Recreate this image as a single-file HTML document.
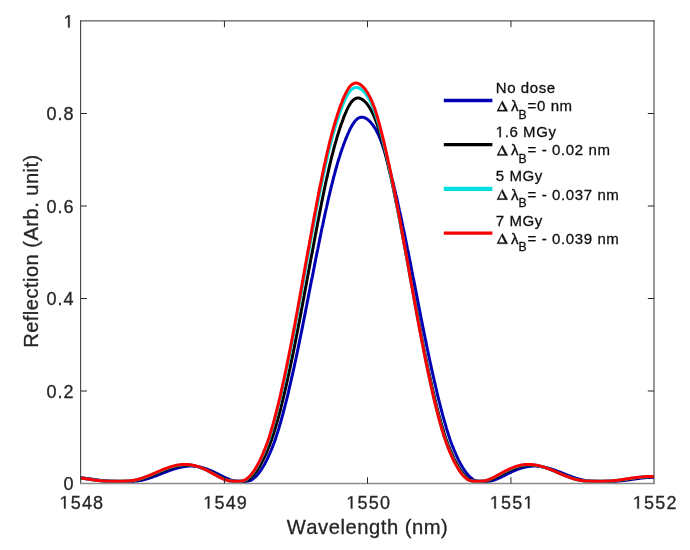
<!DOCTYPE html>
<html><head><meta charset="utf-8"><title>chart</title>
<style>
html,body{margin:0;padding:0;background:#fff;}
body{width:690px;height:550px;overflow:hidden;}
svg{display:block;will-change:transform;}
text{font-family:"Liberation Sans",sans-serif;fill:#262626;stroke:#262626;stroke-width:0.3px;}
.lg text{fill:#111;stroke:#111;stroke-width:0.3px;}
.g1{fill:#262626;stroke:#262626;stroke-width:0.3px;}
.lg .g1{fill:#111;stroke:#111;}
</style></head><body>
<svg width="690" height="550" viewBox="0 0 690 550">
<rect width="690" height="550" fill="#fff"/>
<defs><filter id="bl" x="0" y="0" width="690" height="550" filterUnits="userSpaceOnUse"><feGaussianBlur stdDeviation="0.45"/></filter><clipPath id="cp"><rect x="80.7" y="19.0" width="573.3" height="466.5"/></clipPath></defs>

<g filter="url(#bl)">
<g clip-path="url(#cp)" fill="none" stroke-linejoin="round" stroke-linecap="round">
<path d="M78.1,477.5 L78.7,477.6 L79.3,477.6 L79.9,477.7 L80.5,477.8 L81.1,477.8 L81.7,477.9 L82.3,477.9 L82.9,478.0 L83.5,478.1 L84.1,478.1 L84.7,478.2 L85.3,478.3 L85.9,478.4 L86.5,478.4 L87.1,478.5 L87.7,478.6 L88.3,478.7 L88.9,478.8 L89.5,478.8 L90.1,478.9 L90.7,479.0 L91.3,479.1 L91.9,479.2 L92.5,479.3 L93.1,479.3 L93.7,479.4 L94.3,479.5 L94.9,479.6 L95.5,479.7 L96.1,479.8 L96.7,479.9 L97.3,479.9 L97.9,480.0 L98.5,480.1 L99.1,480.2 L99.7,480.3 L100.3,480.3 L100.9,480.4 L101.5,480.5 L102.1,480.6 L102.7,480.6 L103.3,480.7 L103.9,480.7 L104.5,480.8 L105.1,480.9 L105.7,480.9 L106.3,481.0 L106.9,481.0 L107.5,481.1 L108.1,481.1 L108.7,481.1 L109.3,481.2 L109.9,481.2 L110.5,481.2 L111.1,481.3 L111.7,481.3 L112.3,481.3 L112.9,481.3 L113.5,481.3 L114.1,481.3 L114.7,481.3 L115.3,481.4 L115.9,481.4 L116.5,481.4 L117.1,481.4 L117.7,481.4 L118.3,481.4 L118.9,481.4 L119.5,481.4 L120.1,481.4 L120.7,481.4 L121.3,481.4 L121.9,481.4 L122.5,481.4 L123.1,481.4 L123.7,481.4 L124.3,481.4 L124.9,481.4 L125.5,481.4 L126.1,481.4 L126.7,481.4 L127.3,481.4 L127.9,481.4 L128.5,481.4 L129.1,481.4 L129.7,481.3 L130.3,481.3 L130.9,481.3 L131.5,481.3 L132.1,481.3 L132.7,481.3 L133.3,481.2 L133.9,481.2 L134.5,481.2 L135.1,481.1 L135.7,481.1 L136.3,481.0 L136.9,480.9 L137.5,480.9 L138.1,480.8 L138.7,480.7 L139.3,480.6 L139.9,480.5 L140.5,480.4 L141.1,480.3 L141.7,480.2 L142.3,480.1 L142.9,479.9 L143.5,479.8 L144.1,479.6 L144.7,479.5 L145.3,479.3 L145.9,479.2 L146.5,479.0 L147.1,478.8 L147.7,478.7 L148.3,478.5 L148.9,478.3 L149.5,478.1 L150.1,477.9 L150.7,477.7 L151.3,477.5 L151.9,477.3 L152.5,477.1 L153.1,476.9 L153.7,476.6 L154.3,476.4 L154.9,476.2 L155.5,476.0 L156.1,475.8 L156.7,475.5 L157.3,475.3 L157.9,475.1 L158.5,474.8 L159.1,474.6 L159.7,474.4 L160.3,474.1 L160.9,473.9 L161.5,473.7 L162.1,473.4 L162.7,473.2 L163.3,472.9 L163.9,472.7 L164.5,472.5 L165.1,472.2 L165.7,472.0 L166.3,471.8 L166.9,471.5 L167.5,471.3 L168.1,471.1 L168.7,470.9 L169.3,470.6 L169.9,470.4 L170.5,470.2 L171.1,470.0 L171.7,469.8 L172.3,469.6 L172.9,469.4 L173.5,469.2 L174.1,469.0 L174.7,468.8 L175.3,468.6 L175.9,468.5 L176.5,468.3 L177.1,468.1 L177.7,468.0 L178.3,467.8 L178.9,467.6 L179.5,467.5 L180.1,467.4 L180.7,467.2 L181.3,467.1 L181.9,467.0 L182.5,466.9 L183.1,466.8 L183.7,466.7 L184.3,466.6 L184.9,466.5 L185.5,466.4 L186.1,466.3 L186.7,466.3 L187.3,466.2 L187.9,466.2 L188.5,466.1 L189.1,466.1 L189.7,466.1 L190.3,466.1 L190.9,466.1 L191.6,466.1 L192.2,466.1 L192.8,466.1 L193.4,466.2 L194.0,466.2 L194.6,466.2 L195.2,466.3 L195.8,466.4 L196.4,466.4 L197.0,466.5 L197.6,466.6 L198.2,466.7 L198.8,466.8 L199.4,466.9 L200.0,467.1 L200.6,467.2 L201.2,467.3 L201.8,467.5 L202.4,467.6 L203.0,467.8 L203.6,468.0 L204.2,468.2 L204.8,468.4 L205.4,468.6 L206.0,468.8 L206.6,469.0 L207.2,469.2 L207.8,469.4 L208.4,469.6 L209.0,469.9 L209.6,470.1 L210.2,470.4 L210.8,470.6 L211.4,470.9 L212.0,471.2 L212.6,471.4 L213.2,471.7 L213.8,472.0 L214.4,472.3 L215.0,472.6 L215.6,472.9 L216.2,473.1 L216.8,473.4 L217.4,473.7 L218.0,474.0 L218.6,474.3 L219.2,474.6 L219.8,475.0 L220.4,475.3 L221.0,475.6 L221.6,475.9 L222.2,476.2 L222.8,476.5 L223.4,476.8 L224.0,477.0 L224.6,477.3 L225.2,477.6 L225.8,477.9 L226.4,478.2 L227.0,478.4 L227.6,478.7 L228.2,479.0 L228.8,479.2 L229.4,479.4 L230.0,479.7 L230.6,479.9 L231.2,480.1 L231.8,480.3 L232.4,480.4 L233.0,480.6 L233.6,480.7 L234.2,480.9 L234.8,481.0 L235.4,481.1 L236.0,481.2 L236.6,481.2 L237.2,481.3 L237.8,481.3 L238.4,481.3 L239.0,481.4 L239.6,481.4 L240.2,481.4 L240.8,481.4 L241.4,481.4 L242.0,481.4 L242.6,481.4 L243.1,481.4 L243.6,481.4 L244.2,481.4 L244.7,481.4 L245.2,481.4 L245.8,481.3 L246.3,481.3 L246.8,481.3 L247.4,481.2 L247.9,481.1 L248.5,481.0 L249.0,480.9 L249.5,480.8 L250.1,480.6 L250.6,480.3 L251.2,480.1 L251.7,479.8 L252.3,479.4 L252.8,479.0 L253.4,478.6 L253.9,478.2 L254.5,477.7 L255.1,477.2 L255.6,476.7 L256.2,476.1 L256.8,475.5 L257.3,474.8 L257.9,474.2 L258.5,473.4 L259.1,472.7 L259.6,471.9 L260.2,471.1 L260.8,470.3 L261.4,469.4 L262.0,468.5 L262.6,467.5 L263.2,466.5 L263.8,465.5 L264.4,464.4 L265.0,463.4 L265.6,462.2 L266.2,461.1 L266.8,459.9 L267.4,458.6 L268.0,457.4 L268.6,456.0 L269.2,454.7 L269.8,453.3 L270.4,451.9 L271.1,450.4 L271.7,448.9 L272.3,447.4 L272.9,445.9 L273.5,444.3 L274.2,442.6 L274.8,440.9 L275.4,439.2 L275.9,437.5 L276.5,435.7 L277.1,433.9 L277.7,432.0 L278.3,430.1 L278.9,428.2 L279.4,426.2 L280.0,424.2 L280.6,422.2 L281.2,420.1 L281.8,418.0 L282.4,415.9 L283.0,413.7 L283.5,411.5 L284.1,409.3 L284.7,407.0 L285.3,404.7 L285.9,402.4 L286.5,400.0 L287.1,397.6 L287.7,395.2 L288.3,392.7 L288.8,390.2 L289.4,387.7 L290.0,385.2 L290.6,382.6 L291.2,380.0 L291.8,377.3 L292.4,374.7 L293.0,372.0 L293.6,369.3 L294.2,366.6 L294.8,363.8 L295.4,361.0 L296.0,358.2 L296.6,355.4 L297.2,352.5 L297.8,349.7 L298.4,346.8 L299.0,343.9 L299.6,340.9 L300.2,338.0 L300.8,335.0 L301.4,332.1 L302.0,329.1 L302.6,326.1 L303.2,323.0 L303.8,320.0 L304.4,317.0 L305.0,313.9 L305.6,310.8 L306.2,307.8 L306.8,304.7 L307.4,301.6 L308.0,298.5 L308.6,295.4 L309.2,292.3 L309.8,289.2 L310.4,286.1 L311.0,283.0 L311.6,279.9 L312.3,276.8 L312.9,273.7 L313.5,270.6 L314.1,267.5 L314.7,264.4 L315.3,261.3 L315.9,258.2 L316.5,255.1 L317.1,252.1 L317.8,249.0 L318.4,246.0 L319.0,243.0 L319.6,239.9 L320.2,236.9 L320.8,234.0 L321.4,231.0 L322.0,228.0 L322.7,225.1 L323.3,222.2 L323.9,219.3 L324.5,216.4 L325.1,213.6 L325.7,210.8 L326.4,208.0 L327.0,205.2 L327.6,202.4 L328.2,199.7 L328.8,197.0 L329.5,194.4 L330.1,191.7 L330.7,189.1 L331.3,186.6 L332.0,184.0 L332.6,181.6 L333.2,179.1 L333.8,176.7 L334.5,174.3 L335.1,171.9 L335.7,169.6 L336.4,167.3 L337.0,165.1 L337.6,162.9 L338.3,160.8 L338.9,158.7 L339.6,156.6 L340.2,154.6 L340.8,152.6 L341.5,150.7 L342.1,148.8 L342.8,147.0 L343.4,145.2 L344.0,143.5 L344.7,141.8 L345.3,140.2 L345.9,138.6 L346.5,137.1 L347.2,135.6 L347.8,134.2 L348.4,132.9 L349.0,131.5 L349.5,130.3 L350.1,129.1 L350.7,127.9 L351.3,126.9 L351.9,125.8 L352.4,124.8 L353.0,123.9 L353.6,123.1 L354.1,122.3 L354.7,121.5 L355.3,120.8 L355.9,120.2 L356.4,119.6 L357.0,119.1 L357.6,118.7 L358.2,118.3 L358.8,117.9 L359.4,117.7 L360.0,117.5 L360.6,117.3 L361.3,117.2 L361.8,117.2 L362.5,117.2 L363.2,117.3 L363.8,117.5 L364.5,117.7 L365.1,117.9 L365.8,118.3 L366.5,118.7 L367.2,119.1 L367.8,119.6 L368.5,120.2 L369.2,120.8 L369.9,121.5 L370.6,122.3 L371.3,123.1 L372.0,123.9 L372.7,124.8 L373.4,125.8 L374.1,126.9 L374.8,127.9 L375.5,129.1 L376.2,130.3 L376.8,131.5 L377.5,132.9 L378.1,134.2 L378.8,135.6 L379.4,137.1 L380.1,138.6 L380.7,140.2 L381.3,141.8 L381.9,143.5 L382.5,145.2 L383.1,147.0 L383.7,148.8 L384.3,150.7 L384.9,152.6 L385.5,154.6 L386.1,156.6 L386.7,158.7 L387.3,160.8 L387.9,162.9 L388.5,165.1 L389.1,167.3 L389.7,169.6 L390.3,171.9 L390.9,174.3 L391.5,176.7 L392.1,179.1 L392.8,181.6 L393.4,184.0 L394.0,186.6 L394.6,189.1 L395.2,191.7 L395.8,194.4 L396.5,197.0 L397.1,199.7 L397.7,202.4 L398.3,205.2 L398.9,208.0 L399.5,210.8 L400.2,213.6 L400.8,216.4 L401.4,219.3 L402.0,222.2 L402.6,225.1 L403.2,228.0 L403.9,231.0 L404.5,234.0 L405.1,236.9 L405.7,239.9 L406.3,243.0 L406.9,246.0 L407.5,249.0 L408.2,252.1 L408.8,255.1 L409.4,258.2 L410.0,261.3 L410.6,264.4 L411.2,267.5 L411.8,270.6 L412.4,273.7 L413.0,276.8 L413.7,279.9 L414.3,283.0 L414.9,286.1 L415.5,289.2 L416.1,292.3 L416.7,295.4 L417.3,298.5 L417.9,301.6 L418.5,304.7 L419.1,307.8 L419.7,310.8 L420.3,313.9 L420.9,317.0 L421.5,320.0 L422.1,323.0 L422.7,326.1 L423.3,329.1 L423.9,332.1 L424.5,335.0 L425.1,338.0 L425.7,340.9 L426.3,343.9 L426.9,346.8 L427.5,349.7 L428.1,352.5 L428.7,355.4 L429.3,358.2 L429.9,361.0 L430.5,363.8 L431.1,366.6 L431.7,369.3 L432.3,372.0 L432.9,374.7 L433.5,377.3 L434.1,380.0 L434.7,382.6 L435.3,385.2 L435.9,387.7 L436.5,390.2 L437.0,392.7 L437.6,395.2 L438.2,397.6 L438.8,400.0 L439.4,402.4 L440.0,404.7 L440.6,407.0 L441.2,409.3 L441.8,411.5 L442.3,413.7 L442.9,415.9 L443.5,418.0 L444.1,420.1 L444.7,422.2 L445.3,424.2 L445.9,426.2 L446.4,428.2 L447.0,430.1 L447.6,432.0 L448.2,433.9 L448.8,435.7 L449.4,437.5 L449.9,439.2 L450.5,440.9 L451.1,442.6 L451.8,444.3 L452.4,445.9 L453.0,447.4 L453.6,448.9 L454.2,450.4 L454.9,451.9 L455.5,453.3 L456.1,454.7 L456.7,456.0 L457.3,457.4 L457.9,458.6 L458.5,459.9 L459.1,461.1 L459.7,462.2 L460.3,463.4 L460.9,464.4 L461.5,465.5 L462.1,466.5 L462.7,467.5 L463.3,468.5 L463.9,469.4 L464.5,470.3 L465.1,471.1 L465.7,471.9 L466.2,472.7 L466.8,473.4 L467.4,474.2 L468.0,474.8 L468.5,475.5 L469.1,476.1 L469.7,476.7 L470.2,477.2 L470.8,477.7 L471.4,478.2 L471.9,478.6 L472.5,479.0 L473.0,479.4 L473.6,479.8 L474.1,480.1 L474.7,480.3 L475.2,480.6 L475.8,480.8 L476.3,480.9 L476.8,481.0 L477.4,481.1 L477.9,481.2 L478.5,481.3 L479.0,481.3 L479.5,481.3 L480.1,481.4 L480.6,481.4 L481.1,481.4 L481.7,481.4 L482.2,481.4 L482.7,481.4 L483.3,481.4 L483.9,481.4 L484.5,481.4 L485.1,481.4 L485.7,481.4 L486.3,481.4 L486.9,481.3 L487.5,481.3 L488.1,481.3 L488.7,481.2 L489.3,481.2 L489.9,481.1 L490.5,481.0 L491.1,480.9 L491.7,480.7 L492.3,480.6 L492.9,480.4 L493.5,480.3 L494.1,480.1 L494.7,479.9 L495.3,479.7 L495.9,479.4 L496.5,479.2 L497.1,479.0 L497.7,478.7 L498.3,478.4 L498.9,478.2 L499.5,477.9 L500.1,477.6 L500.7,477.3 L501.3,477.0 L501.9,476.8 L502.5,476.5 L503.1,476.2 L503.7,475.9 L504.3,475.6 L504.9,475.3 L505.5,475.0 L506.1,474.6 L506.7,474.3 L507.3,474.0 L507.9,473.7 L508.5,473.4 L509.1,473.1 L509.7,472.9 L510.3,472.6 L510.9,472.3 L511.5,472.0 L512.1,471.7 L512.7,471.4 L513.3,471.2 L513.9,470.9 L514.5,470.6 L515.1,470.4 L515.7,470.1 L516.3,469.9 L516.9,469.6 L517.5,469.4 L518.1,469.2 L518.7,469.0 L519.3,468.8 L519.9,468.6 L520.5,468.4 L521.1,468.2 L521.7,468.0 L522.3,467.8 L522.9,467.6 L523.5,467.5 L524.1,467.3 L524.7,467.2 L525.3,467.1 L525.9,466.9 L526.5,466.8 L527.1,466.7 L527.7,466.6 L528.3,466.5 L528.9,466.4 L529.5,466.4 L530.1,466.3 L530.7,466.2 L531.3,466.2 L531.9,466.2 L532.5,466.1 L533.1,466.1 L533.7,466.1 L534.4,466.1 L535.0,466.1 L535.6,466.1 L536.2,466.1 L536.8,466.1 L537.4,466.2 L538.0,466.2 L538.6,466.3 L539.2,466.3 L539.8,466.4 L540.4,466.5 L541.0,466.6 L541.6,466.7 L542.2,466.8 L542.8,466.9 L543.4,467.0 L544.0,467.1 L544.6,467.2 L545.2,467.4 L545.8,467.5 L546.4,467.6 L547.0,467.8 L547.6,468.0 L548.2,468.1 L548.8,468.3 L549.4,468.5 L550.0,468.6 L550.6,468.8 L551.2,469.0 L551.8,469.2 L552.4,469.4 L553.0,469.6 L553.6,469.8 L554.2,470.0 L554.8,470.2 L555.4,470.4 L556.0,470.6 L556.6,470.9 L557.2,471.1 L557.8,471.3 L558.4,471.5 L559.0,471.8 L559.6,472.0 L560.2,472.2 L560.8,472.5 L561.4,472.7 L562.0,472.9 L562.6,473.2 L563.2,473.4 L563.8,473.7 L564.4,473.9 L565.0,474.1 L565.6,474.4 L566.2,474.6 L566.8,474.8 L567.4,475.1 L568.0,475.3 L568.6,475.5 L569.2,475.8 L569.8,476.0 L570.4,476.2 L571.0,476.4 L571.6,476.6 L572.2,476.9 L572.8,477.1 L573.4,477.3 L574.0,477.5 L574.6,477.7 L575.2,477.9 L575.8,478.1 L576.4,478.3 L577.0,478.5 L577.6,478.7 L578.2,478.8 L578.8,479.0 L579.4,479.2 L580.0,479.3 L580.6,479.5 L581.2,479.6 L581.8,479.8 L582.4,479.9 L583.0,480.1 L583.6,480.2 L584.2,480.3 L584.8,480.4 L585.4,480.5 L586.0,480.6 L586.6,480.7 L587.2,480.8 L587.8,480.9 L588.4,480.9 L589.0,481.0 L589.6,481.1 L590.2,481.1 L590.8,481.2 L591.4,481.2 L592.0,481.2 L592.6,481.3 L593.2,481.3 L593.8,481.3 L594.4,481.3 L595.0,481.3 L595.6,481.3 L596.2,481.4 L596.8,481.4 L597.4,481.4 L598.0,481.4 L598.6,481.4 L599.2,481.4 L599.8,481.4 L600.4,481.4 L601.0,481.4 L601.6,481.4 L602.2,481.4 L602.8,481.4 L603.4,481.4 L604.0,481.4 L604.6,481.4 L605.2,481.4 L605.8,481.4 L606.4,481.4 L607.0,481.4 L607.6,481.4 L608.2,481.4 L608.8,481.4 L609.4,481.4 L610.0,481.4 L610.6,481.3 L611.2,481.3 L611.8,481.3 L612.4,481.3 L613.0,481.3 L613.6,481.3 L614.2,481.3 L614.8,481.2 L615.4,481.2 L616.0,481.2 L616.6,481.1 L617.2,481.1 L617.8,481.1 L618.4,481.0 L619.0,481.0 L619.6,480.9 L620.2,480.9 L620.8,480.8 L621.4,480.7 L622.0,480.7 L622.6,480.6 L623.2,480.6 L623.8,480.5 L624.4,480.4 L625.0,480.3 L625.6,480.3 L626.2,480.2 L626.8,480.1 L627.4,480.0 L628.0,479.9 L628.6,479.9 L629.2,479.8 L629.8,479.7 L630.4,479.6 L631.0,479.5 L631.6,479.4 L632.2,479.3 L632.8,479.3 L633.4,479.2 L634.0,479.1 L634.6,479.0 L635.2,478.9 L635.8,478.8 L636.4,478.8 L637.0,478.7 L637.6,478.6 L638.2,478.5 L638.8,478.4 L639.4,478.4 L640.0,478.3 L640.6,478.2 L641.2,478.1 L641.8,478.1 L642.4,478.0 L643.0,477.9 L643.6,477.9 L644.2,477.8 L644.8,477.8 L645.4,477.7 L646.0,477.6 L646.6,477.6 L647.2,477.5 L647.8,477.5 L648.4,477.5 L649.0,477.4 L649.6,477.4 L650.2,477.3 L650.8,477.3 L651.4,477.3 L652.0,477.2 L652.6,477.2 L653.2,477.2 L653.8,477.2 L654.4,477.1 L655.0,477.1 L655.6,477.1 L656.2,477.1 L656.8,477.1" stroke="#0000B4" stroke-width="3.0"/>
<path d="M77.7,477.6 L78.3,477.7 L78.9,477.7 L79.5,477.8 L80.1,477.9 L80.7,477.9 L81.3,478.0 L81.9,478.1 L82.5,478.2 L83.1,478.3 L83.7,478.3 L84.3,478.4 L84.9,478.5 L85.5,478.6 L86.1,478.7 L86.7,478.8 L87.3,478.9 L87.9,479.0 L88.5,479.0 L89.1,479.1 L89.7,479.2 L90.3,479.3 L90.9,479.4 L91.5,479.5 L92.1,479.6 L92.7,479.7 L93.3,479.8 L93.9,479.8 L94.5,479.9 L95.1,480.0 L95.7,480.1 L96.3,480.2 L96.9,480.2 L97.5,480.3 L98.1,480.4 L98.7,480.5 L99.3,480.5 L99.9,480.6 L100.5,480.7 L101.1,480.7 L101.8,480.8 L102.4,480.8 L103.0,480.9 L103.6,480.9 L104.2,481.0 L104.8,481.0 L105.4,481.0 L106.0,481.1 L106.6,481.1 L107.2,481.1 L107.8,481.2 L108.4,481.2 L109.0,481.2 L109.6,481.2 L110.2,481.2 L110.8,481.2 L111.4,481.2 L112.0,481.2 L112.6,481.3 L113.2,481.3 L113.8,481.3 L114.4,481.3 L115.0,481.3 L115.6,481.3 L116.2,481.3 L116.8,481.3 L117.4,481.3 L118.0,481.3 L118.6,481.3 L119.2,481.3 L119.8,481.3 L120.4,481.3 L121.0,481.3 L121.6,481.3 L122.2,481.3 L122.8,481.3 L123.4,481.3 L124.0,481.3 L124.6,481.3 L125.2,481.2 L125.8,481.2 L126.4,481.2 L127.0,481.2 L127.6,481.2 L128.2,481.2 L128.8,481.1 L129.4,481.1 L130.0,481.1 L130.6,481.0 L131.2,481.0 L131.8,480.9 L132.4,480.9 L133.0,480.8 L133.6,480.7 L134.2,480.7 L134.8,480.6 L135.4,480.5 L136.0,480.4 L136.6,480.3 L137.2,480.1 L137.8,480.0 L138.4,479.9 L139.0,479.7 L139.6,479.6 L140.2,479.4 L140.8,479.3 L141.4,479.1 L142.0,478.9 L142.6,478.8 L143.2,478.6 L143.8,478.4 L144.4,478.2 L145.0,478.0 L145.6,477.8 L146.2,477.6 L146.8,477.4 L147.4,477.2 L148.0,477.0 L148.6,476.7 L149.2,476.5 L149.8,476.3 L150.4,476.1 L151.0,475.8 L151.6,475.6 L152.2,475.3 L152.8,475.1 L153.4,474.9 L154.0,474.6 L154.6,474.4 L155.2,474.1 L155.8,473.9 L156.4,473.6 L157.0,473.4 L157.6,473.1 L158.2,472.9 L158.8,472.6 L159.4,472.4 L160.0,472.1 L160.6,471.9 L161.2,471.6 L161.8,471.4 L162.4,471.2 L163.0,470.9 L163.6,470.7 L164.2,470.4 L164.8,470.2 L165.4,470.0 L166.0,469.7 L166.6,469.5 L167.2,469.3 L167.8,469.1 L168.4,468.9 L169.0,468.7 L169.6,468.4 L170.2,468.2 L170.8,468.0 L171.4,467.9 L172.0,467.7 L172.6,467.5 L173.2,467.3 L173.8,467.1 L174.4,467.0 L175.0,466.8 L175.6,466.7 L176.2,466.5 L176.8,466.4 L177.4,466.2 L178.0,466.1 L178.6,466.0 L179.2,465.9 L179.8,465.8 L180.4,465.7 L181.0,465.6 L181.6,465.5 L182.2,465.4 L182.8,465.4 L183.4,465.3 L184.0,465.3 L184.6,465.2 L185.2,465.2 L185.8,465.2 L186.4,465.2 L187.0,465.2 L187.6,465.2 L188.2,465.2 L188.8,465.2 L189.4,465.2 L190.0,465.3 L190.6,465.3 L191.2,465.4 L191.8,465.5 L192.4,465.5 L193.0,465.6 L193.6,465.7 L194.2,465.8 L194.8,465.9 L195.4,466.1 L196.0,466.2 L196.6,466.3 L197.2,466.5 L197.8,466.6 L198.4,466.8 L199.0,467.0 L199.6,467.2 L200.2,467.4 L200.8,467.6 L201.4,467.8 L202.0,468.0 L202.6,468.2 L203.2,468.4 L203.8,468.7 L204.4,468.9 L205.0,469.2 L205.6,469.4 L206.2,469.7 L206.8,470.0 L207.4,470.2 L208.0,470.5 L208.6,470.8 L209.2,471.1 L209.8,471.4 L210.4,471.7 L211.0,472.0 L211.6,472.3 L212.2,472.6 L212.8,472.9 L213.4,473.2 L214.0,473.5 L214.6,473.9 L215.2,474.2 L215.8,474.5 L216.4,474.8 L217.0,475.1 L217.6,475.5 L218.2,475.8 L218.8,476.1 L219.4,476.4 L220.0,476.7 L220.6,477.0 L221.2,477.3 L221.8,477.6 L222.4,477.9 L223.0,478.2 L223.6,478.5 L224.2,478.7 L224.8,479.0 L225.4,479.2 L226.0,479.5 L226.6,479.7 L227.2,479.9 L227.8,480.1 L228.4,480.3 L229.0,480.5 L229.6,480.6 L230.2,480.7 L230.8,480.9 L231.4,481.0 L232.0,481.0 L232.6,481.1 L233.2,481.2 L233.8,481.2 L234.4,481.2 L235.0,481.2 L235.6,481.3 L236.2,481.3 L236.8,481.3 L237.4,481.3 L238.0,481.3 L238.6,481.3 L239.2,481.3 L239.7,481.3 L240.3,481.3 L240.8,481.3 L241.4,481.2 L242.0,481.2 L242.5,481.2 L243.1,481.2 L243.6,481.1 L244.2,481.0 L244.8,480.9 L245.3,480.8 L245.9,480.6 L246.4,480.4 L247.0,480.2 L247.6,479.9 L248.1,479.6 L248.7,479.2 L249.3,478.8 L249.9,478.4 L250.4,477.9 L251.0,477.4 L251.6,476.9 L252.2,476.3 L252.8,475.7 L253.4,475.1 L254.0,474.4 L254.5,473.7 L255.1,472.9 L255.7,472.1 L256.3,471.3 L256.9,470.5 L257.5,469.6 L258.2,468.6 L258.8,467.7 L259.4,466.7 L260.0,465.6 L260.6,464.6 L261.2,463.4 L261.8,462.3 L262.5,461.1 L263.1,459.9 L263.7,458.6 L264.3,457.3 L264.9,456.0 L265.6,454.6 L266.2,453.2 L266.8,451.7 L267.5,450.2 L268.1,448.7 L268.7,447.1 L269.4,445.5 L270.0,443.9 L270.6,442.2 L271.3,440.5 L271.9,438.7 L272.5,436.9 L273.1,435.1 L273.7,433.2 L274.3,431.3 L274.9,429.3 L275.5,427.3 L276.1,425.3 L276.7,423.2 L277.3,421.1 L277.9,419.0 L278.5,416.8 L279.1,414.6 L279.7,412.4 L280.3,410.1 L280.9,407.8 L281.4,405.4 L282.0,403.0 L282.6,400.6 L283.2,398.1 L283.8,395.6 L284.4,393.1 L285.0,390.5 L285.6,388.0 L286.2,385.3 L286.8,382.7 L287.4,380.0 L288.0,377.3 L288.6,374.6 L289.2,371.8 L289.8,369.0 L290.4,366.2 L291.0,363.3 L291.6,360.4 L292.2,357.5 L292.8,354.6 L293.4,351.6 L294.0,348.7 L294.6,345.7 L295.2,342.6 L295.8,339.6 L296.4,336.5 L297.0,333.5 L297.6,330.4 L298.2,327.2 L298.8,324.1 L299.4,321.0 L300.0,317.8 L300.6,314.6 L301.2,311.4 L301.8,308.2 L302.4,305.0 L303.0,301.8 L303.6,298.6 L304.2,295.3 L304.8,292.1 L305.4,288.8 L306.0,285.6 L306.6,282.3 L307.2,279.0 L307.8,275.8 L308.4,272.5 L309.0,269.2 L309.6,266.0 L310.2,262.7 L310.8,259.4 L311.4,256.2 L312.1,252.9 L312.7,249.7 L313.3,246.4 L313.9,243.2 L314.5,240.0 L315.1,236.7 L315.7,233.5 L316.3,230.4 L316.9,227.2 L317.5,224.0 L318.1,220.9 L318.7,217.8 L319.3,214.7 L319.9,211.6 L320.5,208.5 L321.1,205.5 L321.7,202.4 L322.3,199.4 L322.9,196.5 L323.5,193.5 L324.1,190.6 L324.7,187.7 L325.3,184.9 L325.9,182.0 L326.5,179.2 L327.2,176.5 L327.8,173.7 L328.4,171.0 L329.0,168.4 L329.6,165.7 L330.2,163.1 L330.8,160.6 L331.4,158.1 L332.0,155.6 L332.7,153.2 L333.3,150.8 L333.9,148.4 L334.5,146.1 L335.1,143.9 L335.8,141.7 L336.4,139.5 L337.0,137.4 L337.6,135.3 L338.3,133.3 L338.9,131.3 L339.5,129.4 L340.1,127.5 L340.7,125.7 L341.3,123.9 L342.0,122.2 L342.6,120.6 L343.2,119.0 L343.7,117.4 L344.3,115.9 L344.9,114.5 L345.5,113.1 L346.1,111.8 L346.6,110.5 L347.2,109.3 L347.7,108.2 L348.3,107.1 L348.8,106.0 L349.4,105.1 L349.9,104.2 L350.5,103.3 L351.0,102.5 L351.6,101.8 L352.1,101.2 L352.7,100.6 L353.3,100.0 L353.8,99.6 L354.4,99.1 L355.0,98.8 L355.6,98.5 L356.1,98.3 L356.7,98.1 L357.3,98.0 L357.9,98.0 L358.6,98.0 L359.2,98.1 L359.8,98.3 L360.5,98.5 L361.1,98.8 L361.8,99.1 L362.4,99.6 L363.1,100.0 L363.8,100.6 L364.4,101.2 L365.1,101.8 L365.8,102.5 L366.5,103.3 L367.2,104.2 L367.9,105.1 L368.5,106.0 L369.2,107.1 L369.9,108.2 L370.6,109.3 L371.3,110.5 L371.9,111.8 L372.6,113.1 L373.2,114.5 L373.9,115.9 L374.5,117.4 L375.1,119.0 L375.8,120.6 L376.4,122.2 L377.0,123.9 L377.6,125.7 L378.2,127.5 L378.8,129.4 L379.3,131.3 L379.9,133.3 L380.5,135.3 L381.1,137.4 L381.7,139.5 L382.3,141.7 L382.9,143.9 L383.4,146.1 L384.0,148.4 L384.6,150.8 L385.2,153.2 L385.8,155.6 L386.4,158.1 L387.0,160.6 L387.6,163.1 L388.2,165.7 L388.8,168.4 L389.4,171.0 L390.0,173.7 L390.7,176.5 L391.3,179.2 L391.9,182.0 L392.5,184.9 L393.1,187.7 L393.7,190.6 L394.3,193.5 L394.9,196.5 L395.5,199.4 L396.1,202.4 L396.7,205.5 L397.4,208.5 L398.0,211.6 L398.6,214.7 L399.2,217.8 L399.8,220.9 L400.4,224.0 L401.0,227.2 L401.6,230.4 L402.2,233.5 L402.8,236.7 L403.4,240.0 L404.0,243.2 L404.7,246.4 L405.3,249.7 L405.9,252.9 L406.5,256.2 L407.1,259.4 L407.7,262.7 L408.3,266.0 L408.9,269.2 L409.5,272.5 L410.1,275.8 L410.7,279.0 L411.3,282.3 L411.9,285.6 L412.5,288.8 L413.1,292.1 L413.7,295.3 L414.3,298.6 L414.9,301.8 L415.5,305.0 L416.1,308.2 L416.7,311.4 L417.3,314.6 L417.9,317.8 L418.5,321.0 L419.1,324.1 L419.7,327.2 L420.3,330.4 L420.9,333.5 L421.5,336.5 L422.1,339.6 L422.7,342.6 L423.3,345.7 L423.9,348.7 L424.5,351.6 L425.1,354.6 L425.7,357.5 L426.3,360.4 L426.9,363.3 L427.5,366.2 L428.1,369.0 L428.7,371.8 L429.3,374.6 L429.9,377.3 L430.5,380.0 L431.1,382.7 L431.7,385.3 L432.3,388.0 L432.9,390.5 L433.5,393.1 L434.1,395.6 L434.7,398.1 L435.3,400.6 L435.9,403.0 L436.4,405.4 L437.0,407.8 L437.6,410.1 L438.2,412.4 L438.8,414.6 L439.4,416.8 L440.0,419.0 L440.6,421.1 L441.2,423.2 L441.8,425.3 L442.4,427.3 L443.0,429.3 L443.6,431.3 L444.1,433.2 L444.7,435.1 L445.3,436.9 L445.9,438.7 L446.6,440.5 L447.2,442.2 L447.8,443.9 L448.4,445.5 L449.1,447.1 L449.7,448.7 L450.3,450.2 L450.9,451.7 L451.6,453.2 L452.2,454.6 L452.8,456.0 L453.4,457.3 L454.0,458.6 L454.7,459.9 L455.3,461.1 L455.9,462.3 L456.5,463.4 L457.1,464.6 L457.7,465.6 L458.3,466.7 L458.9,467.7 L459.5,468.6 L460.1,469.6 L460.7,470.5 L461.3,471.3 L461.9,472.1 L462.5,472.9 L463.1,473.7 L463.7,474.4 L464.3,475.1 L464.8,475.7 L465.4,476.3 L466.0,476.9 L466.6,477.4 L467.1,477.9 L467.7,478.4 L468.3,478.8 L468.8,479.2 L469.4,479.6 L470.0,479.9 L470.5,480.2 L471.1,480.4 L471.6,480.6 L472.2,480.8 L472.7,480.9 L473.3,481.0 L473.8,481.1 L474.4,481.2 L474.9,481.2 L475.5,481.2 L476.0,481.2 L476.6,481.3 L477.1,481.3 L477.7,481.3 L478.2,481.3 L478.8,481.3 L479.4,481.3 L480.0,481.3 L480.6,481.3 L481.2,481.3 L481.8,481.3 L482.4,481.2 L483.0,481.2 L483.6,481.2 L484.2,481.2 L484.8,481.1 L485.4,481.0 L486.0,481.0 L486.6,480.9 L487.2,480.7 L487.8,480.6 L488.4,480.5 L489.0,480.3 L489.6,480.1 L490.2,479.9 L490.8,479.7 L491.4,479.5 L492.0,479.2 L492.6,479.0 L493.2,478.7 L493.8,478.5 L494.4,478.2 L495.0,477.9 L495.6,477.6 L496.2,477.3 L496.8,477.0 L497.4,476.7 L498.0,476.4 L498.6,476.1 L499.2,475.8 L499.8,475.5 L500.4,475.1 L501.0,474.8 L501.6,474.5 L502.2,474.2 L502.8,473.9 L503.4,473.5 L504.0,473.2 L504.6,472.9 L505.2,472.6 L505.8,472.3 L506.4,472.0 L507.0,471.7 L507.6,471.4 L508.2,471.1 L508.8,470.8 L509.4,470.5 L510.0,470.2 L510.6,470.0 L511.2,469.7 L511.8,469.4 L512.4,469.2 L513.0,468.9 L513.6,468.7 L514.2,468.4 L514.8,468.2 L515.4,468.0 L516.0,467.8 L516.6,467.6 L517.2,467.4 L517.8,467.2 L518.4,467.0 L519.0,466.8 L519.6,466.6 L520.2,466.5 L520.8,466.3 L521.4,466.2 L522.0,466.1 L522.6,465.9 L523.2,465.8 L523.8,465.7 L524.4,465.6 L525.0,465.5 L525.6,465.5 L526.2,465.4 L526.8,465.3 L527.4,465.3 L528.0,465.2 L528.6,465.2 L529.2,465.2 L529.8,465.2 L530.4,465.2 L531.0,465.2 L531.6,465.2 L532.2,465.2 L532.8,465.2 L533.4,465.3 L534.0,465.3 L534.6,465.4 L535.2,465.4 L535.8,465.5 L536.4,465.6 L537.0,465.7 L537.6,465.8 L538.2,465.9 L538.8,466.0 L539.4,466.1 L540.0,466.2 L540.6,466.4 L541.2,466.5 L541.8,466.7 L542.4,466.8 L543.0,467.0 L543.6,467.1 L544.2,467.3 L544.8,467.5 L545.4,467.7 L546.0,467.9 L546.6,468.0 L547.2,468.2 L547.8,468.4 L548.4,468.7 L549.0,468.9 L549.6,469.1 L550.2,469.3 L550.8,469.5 L551.4,469.7 L552.0,470.0 L552.6,470.2 L553.2,470.4 L553.8,470.7 L554.4,470.9 L555.0,471.2 L555.6,471.4 L556.2,471.6 L556.8,471.9 L557.4,472.1 L558.0,472.4 L558.6,472.6 L559.2,472.9 L559.8,473.1 L560.4,473.4 L561.0,473.6 L561.6,473.9 L562.2,474.1 L562.8,474.4 L563.4,474.6 L564.0,474.9 L564.6,475.1 L565.2,475.3 L565.8,475.6 L566.4,475.8 L567.0,476.1 L567.6,476.3 L568.2,476.5 L568.8,476.7 L569.4,477.0 L570.0,477.2 L570.6,477.4 L571.2,477.6 L571.8,477.8 L572.4,478.0 L573.0,478.2 L573.6,478.4 L574.2,478.6 L574.8,478.8 L575.4,478.9 L576.0,479.1 L576.6,479.3 L577.2,479.4 L577.8,479.6 L578.4,479.7 L579.0,479.9 L579.6,480.0 L580.2,480.1 L580.8,480.3 L581.4,480.4 L582.0,480.5 L582.6,480.6 L583.2,480.7 L583.8,480.7 L584.4,480.8 L585.0,480.9 L585.6,480.9 L586.2,481.0 L586.8,481.0 L587.4,481.1 L588.0,481.1 L588.6,481.1 L589.2,481.2 L589.8,481.2 L590.4,481.2 L591.0,481.2 L591.6,481.2 L592.2,481.2 L592.8,481.3 L593.4,481.3 L594.0,481.3 L594.6,481.3 L595.2,481.3 L595.8,481.3 L596.4,481.3 L597.0,481.3 L597.6,481.3 L598.2,481.3 L598.8,481.3 L599.4,481.3 L600.0,481.3 L600.6,481.3 L601.2,481.3 L601.8,481.3 L602.4,481.3 L603.0,481.3 L603.6,481.3 L604.2,481.3 L604.8,481.3 L605.4,481.2 L606.0,481.2 L606.6,481.2 L607.2,481.2 L607.8,481.2 L608.4,481.2 L609.0,481.2 L609.6,481.2 L610.2,481.1 L610.8,481.1 L611.4,481.1 L612.0,481.0 L612.6,481.0 L613.2,481.0 L613.8,480.9 L614.4,480.9 L615.0,480.8 L615.6,480.8 L616.3,480.7 L616.9,480.7 L617.5,480.6 L618.1,480.5 L618.7,480.5 L619.3,480.4 L619.9,480.3 L620.5,480.2 L621.1,480.2 L621.7,480.1 L622.3,480.0 L622.9,479.9 L623.5,479.8 L624.1,479.8 L624.7,479.7 L625.3,479.6 L625.9,479.5 L626.5,479.4 L627.1,479.3 L627.7,479.2 L628.3,479.1 L628.9,479.0 L629.5,479.0 L630.1,478.9 L630.7,478.8 L631.3,478.7 L631.9,478.6 L632.5,478.5 L633.1,478.4 L633.7,478.3 L634.3,478.3 L634.9,478.2 L635.5,478.1 L636.1,478.0 L636.7,477.9 L637.3,477.9 L637.9,477.8 L638.5,477.7 L639.1,477.7 L639.7,477.6 L640.3,477.5 L640.9,477.5 L641.5,477.4 L642.1,477.3 L642.7,477.3 L643.3,477.2 L643.9,477.2 L644.5,477.1 L645.1,477.1 L645.7,477.0 L646.3,477.0 L646.9,477.0 L647.5,476.9 L648.1,476.9 L648.7,476.9 L649.3,476.9 L649.9,476.8 L650.5,476.8 L651.1,476.8 L651.7,476.8 L652.3,476.8 L652.9,476.8 L653.5,476.8 L654.1,476.8 L654.7,476.8 L655.3,476.8 L655.9,476.8 L656.5,476.8" stroke="#000000" stroke-width="3.0"/>
<path d="M77.9,477.6 L78.5,477.7 L79.1,477.8 L79.7,477.9 L80.3,477.9 L80.9,478.0 L81.5,478.1 L82.1,478.2 L82.7,478.3 L83.3,478.4 L83.9,478.5 L84.5,478.6 L85.1,478.6 L85.7,478.7 L86.3,478.8 L86.9,478.9 L87.5,479.0 L88.1,479.1 L88.7,479.2 L89.3,479.3 L89.9,479.4 L90.5,479.5 L91.1,479.6 L91.7,479.7 L92.3,479.7 L92.9,479.8 L93.5,479.9 L94.1,480.0 L94.7,480.1 L95.3,480.2 L95.9,480.2 L96.5,480.3 L97.1,480.4 L97.7,480.5 L98.3,480.5 L98.9,480.6 L99.5,480.6 L100.2,480.7 L100.8,480.8 L101.4,480.8 L102.0,480.9 L102.6,480.9 L103.2,480.9 L103.8,481.0 L104.4,481.0 L105.0,481.0 L105.6,481.1 L106.2,481.1 L106.8,481.1 L107.4,481.1 L108.0,481.1 L108.6,481.2 L109.2,481.2 L109.8,481.2 L110.4,481.2 L111.0,481.2 L111.6,481.2 L112.2,481.2 L112.8,481.2 L113.4,481.2 L114.0,481.2 L114.6,481.2 L115.2,481.2 L115.8,481.2 L116.4,481.2 L117.0,481.2 L117.6,481.2 L118.2,481.2 L118.8,481.2 L119.4,481.2 L120.0,481.2 L120.6,481.2 L121.2,481.2 L121.8,481.2 L122.4,481.2 L123.0,481.2 L123.6,481.2 L124.2,481.2 L124.8,481.2 L125.4,481.1 L126.0,481.1 L126.6,481.1 L127.2,481.1 L127.8,481.0 L128.4,481.0 L129.0,481.0 L129.6,480.9 L130.2,480.9 L130.8,480.8 L131.4,480.7 L132.0,480.7 L132.6,480.6 L133.2,480.5 L133.8,480.4 L134.4,480.3 L135.0,480.2 L135.6,480.0 L136.2,479.9 L136.8,479.8 L137.4,479.6 L138.0,479.5 L138.6,479.3 L139.2,479.2 L139.8,479.0 L140.4,478.8 L141.0,478.6 L141.6,478.5 L142.2,478.3 L142.8,478.1 L143.4,477.9 L144.0,477.7 L144.6,477.4 L145.2,477.2 L145.8,477.0 L146.4,476.8 L147.0,476.6 L147.6,476.3 L148.2,476.1 L148.8,475.9 L149.4,475.6 L150.0,475.4 L150.6,475.1 L151.2,474.9 L151.8,474.6 L152.4,474.4 L153.0,474.1 L153.6,473.9 L154.2,473.6 L154.8,473.4 L155.4,473.1 L156.0,472.9 L156.6,472.6 L157.2,472.3 L157.8,472.1 L158.4,471.8 L159.0,471.6 L159.6,471.3 L160.2,471.1 L160.8,470.8 L161.4,470.6 L162.0,470.3 L162.6,470.1 L163.2,469.8 L163.8,469.6 L164.4,469.4 L165.0,469.1 L165.6,468.9 L166.2,468.7 L166.8,468.5 L167.4,468.2 L168.0,468.0 L168.6,467.8 L169.2,467.6 L169.8,467.4 L170.4,467.2 L171.0,467.0 L171.6,466.9 L172.2,466.7 L172.8,466.5 L173.4,466.4 L174.0,466.2 L174.6,466.1 L175.2,465.9 L175.8,465.8 L176.4,465.6 L177.0,465.5 L177.6,465.4 L178.2,465.3 L178.8,465.2 L179.4,465.1 L180.0,465.0 L180.6,465.0 L181.2,464.9 L181.8,464.8 L182.4,464.8 L183.0,464.7 L183.6,464.7 L184.2,464.7 L184.8,464.7 L185.4,464.7 L186.0,464.7 L186.6,464.7 L187.2,464.7 L187.8,464.7 L188.4,464.8 L189.0,464.8 L189.6,464.9 L190.2,465.0 L190.8,465.1 L191.4,465.1 L192.0,465.2 L192.6,465.3 L193.2,465.5 L193.8,465.6 L194.4,465.7 L195.0,465.9 L195.6,466.0 L196.2,466.2 L196.8,466.4 L197.4,466.5 L198.0,466.7 L198.6,466.9 L199.2,467.1 L199.8,467.3 L200.4,467.6 L201.0,467.8 L201.6,468.0 L202.2,468.3 L202.8,468.5 L203.4,468.8 L204.0,469.0 L204.6,469.3 L205.2,469.6 L205.8,469.9 L206.4,470.2 L207.0,470.5 L207.6,470.8 L208.2,471.1 L208.8,471.4 L209.4,471.7 L210.0,472.0 L210.6,472.3 L211.2,472.6 L211.8,473.0 L212.4,473.3 L213.0,473.6 L213.6,473.9 L214.2,474.3 L214.8,474.6 L215.4,474.9 L216.0,475.2 L216.6,475.6 L217.2,475.9 L217.8,476.2 L218.4,476.5 L219.0,476.8 L219.6,477.1 L220.2,477.5 L220.8,477.7 L221.4,478.0 L222.0,478.3 L222.6,478.6 L223.2,478.9 L223.8,479.1 L224.4,479.4 L225.0,479.6 L225.6,479.8 L226.2,480.0 L226.8,480.2 L227.4,480.4 L228.0,480.5 L228.6,480.7 L229.2,480.8 L229.8,480.9 L230.4,481.0 L231.0,481.0 L231.6,481.1 L232.2,481.1 L232.8,481.2 L233.4,481.2 L234.0,481.2 L234.6,481.2 L235.2,481.2 L235.8,481.2 L236.4,481.2 L237.0,481.2 L237.6,481.2 L238.1,481.2 L238.7,481.2 L239.2,481.2 L239.7,481.2 L240.3,481.2 L240.8,481.1 L241.4,481.1 L241.9,481.0 L242.4,481.0 L243.0,480.8 L243.5,480.7 L244.1,480.5 L244.6,480.3 L245.2,480.1 L245.8,479.8 L246.3,479.4 L246.9,479.1 L247.4,478.7 L248.0,478.2 L248.6,477.8 L249.1,477.3 L249.7,476.7 L250.3,476.1 L250.8,475.5 L251.4,474.8 L252.0,474.1 L252.6,473.4 L253.1,472.6 L253.7,471.8 L254.3,471.0 L254.9,470.1 L255.5,469.2 L256.1,468.2 L256.7,467.2 L257.3,466.2 L257.9,465.1 L258.5,464.0 L259.1,462.9 L259.7,461.7 L260.3,460.5 L260.9,459.2 L261.5,457.9 L262.1,456.6 L262.8,455.2 L263.4,453.8 L264.0,452.4 L264.6,450.9 L265.2,449.3 L265.9,447.8 L266.5,446.1 L267.1,444.5 L267.7,442.8 L268.4,441.1 L269.0,439.3 L269.6,437.5 L270.2,435.6 L270.8,433.8 L271.4,431.8 L272.0,429.9 L272.5,427.9 L273.1,425.8 L273.7,423.7 L274.3,421.6 L274.9,419.4 L275.5,417.2 L276.1,415.0 L276.7,412.7 L277.3,410.4 L277.9,408.1 L278.4,405.7 L279.0,403.3 L279.6,400.8 L280.2,398.3 L280.8,395.8 L281.4,393.2 L282.0,390.6 L282.6,388.0 L283.2,385.4 L283.8,382.7 L284.4,379.9 L285.0,377.2 L285.6,374.4 L286.2,371.6 L286.7,368.7 L287.3,365.9 L287.9,363.0 L288.5,360.0 L289.1,357.1 L289.7,354.1 L290.3,351.1 L290.9,348.0 L291.5,345.0 L292.1,341.9 L292.7,338.8 L293.3,335.7 L293.9,332.5 L294.5,329.4 L295.1,326.2 L295.7,323.0 L296.3,319.8 L296.9,316.5 L297.5,313.3 L298.1,310.0 L298.7,306.8 L299.3,303.5 L299.9,300.2 L300.5,296.8 L301.1,293.5 L301.7,290.2 L302.3,286.9 L302.9,283.5 L303.5,280.2 L304.2,276.8 L304.8,273.5 L305.4,270.1 L306.0,266.7 L306.6,263.4 L307.2,260.0 L307.8,256.7 L308.4,253.3 L309.0,250.0 L309.6,246.6 L310.2,243.3 L310.8,240.0 L311.4,236.6 L312.0,233.3 L312.7,230.0 L313.3,226.7 L313.9,223.5 L314.5,220.2 L315.1,217.0 L315.7,213.7 L316.3,210.5 L316.9,207.3 L317.5,204.2 L318.1,201.0 L318.8,197.9 L319.4,194.8 L320.0,191.7 L320.6,188.7 L321.2,185.6 L321.8,182.6 L322.4,179.7 L323.1,176.7 L323.7,173.8 L324.3,170.9 L324.9,168.1 L325.5,165.3 L326.1,162.5 L326.8,159.8 L327.4,157.1 L328.0,154.4 L328.6,151.8 L329.2,149.2 L329.9,146.7 L330.5,144.2 L331.1,141.7 L331.7,139.3 L332.4,136.9 L333.0,134.6 L333.6,132.4 L334.3,130.1 L334.9,128.0 L335.6,125.8 L336.2,123.7 L336.8,121.7 L337.5,119.7 L338.1,117.8 L338.7,116.0 L339.4,114.1 L340.0,112.4 L340.6,110.7 L341.2,109.0 L341.8,107.4 L342.4,105.9 L343.0,104.4 L343.6,103.0 L344.2,101.7 L344.7,100.4 L345.3,99.1 L345.9,97.9 L346.4,96.8 L347.0,95.8 L347.6,94.8 L348.1,93.8 L348.7,93.0 L349.3,92.2 L349.8,91.4 L350.4,90.7 L351.0,90.1 L351.5,89.6 L352.1,89.1 L352.7,88.7 L353.3,88.3 L353.9,88.0 L354.5,87.8 L355.1,87.6 L355.7,87.5 L356.3,87.5 L357.0,87.5 L357.6,87.6 L358.3,87.8 L358.9,88.0 L359.6,88.3 L360.2,88.7 L360.9,89.1 L361.5,89.6 L362.2,90.1 L362.9,90.7 L363.6,91.4 L364.3,92.2 L365.0,93.0 L365.7,93.8 L366.3,94.8 L367.0,95.8 L367.7,96.8 L368.4,97.9 L369.1,99.1 L369.8,100.4 L370.4,101.7 L371.1,103.0 L371.8,104.4 L372.4,105.9 L373.1,107.4 L373.7,109.0 L374.3,110.7 L374.9,112.4 L375.5,114.1 L376.1,116.0 L376.7,117.8 L377.3,119.7 L377.9,121.7 L378.5,123.7 L379.1,125.8 L379.7,128.0 L380.3,130.1 L380.9,132.4 L381.5,134.6 L382.0,136.9 L382.6,139.3 L383.2,141.7 L383.8,144.2 L384.4,146.7 L385.0,149.2 L385.6,151.8 L386.3,154.4 L386.9,157.1 L387.5,159.8 L388.1,162.5 L388.7,165.3 L389.3,168.1 L389.9,170.9 L390.5,173.8 L391.1,176.7 L391.8,179.7 L392.4,182.6 L393.0,185.6 L393.6,188.7 L394.2,191.7 L394.8,194.8 L395.4,197.9 L396.0,201.0 L396.7,204.2 L397.3,207.3 L397.9,210.5 L398.5,213.7 L399.1,217.0 L399.7,220.2 L400.3,223.5 L400.9,226.7 L401.5,230.0 L402.2,233.3 L402.8,236.6 L403.4,240.0 L404.0,243.3 L404.6,246.6 L405.2,250.0 L405.8,253.3 L406.4,256.7 L407.0,260.0 L407.6,263.4 L408.2,266.7 L408.8,270.1 L409.4,273.5 L410.0,276.8 L410.7,280.2 L411.3,283.5 L411.9,286.9 L412.5,290.2 L413.1,293.5 L413.7,296.8 L414.3,300.2 L414.9,303.5 L415.5,306.8 L416.1,310.0 L416.7,313.3 L417.3,316.5 L417.9,319.8 L418.5,323.0 L419.1,326.2 L419.7,329.4 L420.3,332.5 L420.9,335.7 L421.5,338.8 L422.1,341.9 L422.7,345.0 L423.3,348.0 L423.9,351.1 L424.5,354.1 L425.1,357.1 L425.7,360.0 L426.3,363.0 L426.9,365.9 L427.5,368.7 L428.0,371.6 L428.6,374.4 L429.2,377.2 L429.8,379.9 L430.4,382.7 L431.0,385.4 L431.6,388.0 L432.2,390.6 L432.8,393.2 L433.4,395.8 L434.0,398.3 L434.6,400.8 L435.2,403.3 L435.8,405.7 L436.3,408.1 L436.9,410.4 L437.5,412.7 L438.1,415.0 L438.7,417.2 L439.3,419.4 L439.9,421.6 L440.5,423.7 L441.1,425.8 L441.7,427.9 L442.2,429.9 L442.8,431.8 L443.4,433.8 L444.0,435.6 L444.6,437.5 L445.2,439.3 L445.8,441.1 L446.5,442.8 L447.1,444.5 L447.7,446.1 L448.3,447.8 L449.0,449.3 L449.6,450.9 L450.2,452.4 L450.8,453.8 L451.4,455.2 L452.1,456.6 L452.7,457.9 L453.3,459.2 L453.9,460.5 L454.5,461.7 L455.1,462.9 L455.7,464.0 L456.3,465.1 L456.9,466.2 L457.5,467.2 L458.1,468.2 L458.7,469.2 L459.3,470.1 L459.9,471.0 L460.5,471.8 L461.1,472.6 L461.6,473.4 L462.2,474.1 L462.8,474.8 L463.4,475.5 L463.9,476.1 L464.5,476.7 L465.1,477.3 L465.6,477.8 L466.2,478.2 L466.8,478.7 L467.3,479.1 L467.9,479.4 L468.4,479.8 L469.0,480.1 L469.6,480.3 L470.1,480.5 L470.7,480.7 L471.2,480.8 L471.8,481.0 L472.3,481.0 L472.8,481.1 L473.4,481.1 L473.9,481.2 L474.5,481.2 L475.0,481.2 L475.5,481.2 L476.1,481.2 L476.6,481.2 L477.2,481.2 L477.8,481.2 L478.4,481.2 L479.0,481.2 L479.6,481.2 L480.2,481.2 L480.8,481.2 L481.4,481.2 L482.0,481.1 L482.6,481.1 L483.2,481.0 L483.8,481.0 L484.4,480.9 L485.0,480.8 L485.6,480.7 L486.2,480.5 L486.8,480.4 L487.4,480.2 L488.0,480.0 L488.6,479.8 L489.2,479.6 L489.8,479.4 L490.4,479.1 L491.0,478.9 L491.6,478.6 L492.2,478.3 L492.8,478.0 L493.4,477.7 L494.0,477.5 L494.6,477.1 L495.2,476.8 L495.8,476.5 L496.4,476.2 L497.0,475.9 L497.6,475.6 L498.2,475.2 L498.8,474.9 L499.4,474.6 L500.0,474.3 L500.6,473.9 L501.2,473.6 L501.8,473.3 L502.4,473.0 L503.0,472.6 L503.6,472.3 L504.2,472.0 L504.8,471.7 L505.4,471.4 L506.0,471.1 L506.6,470.8 L507.2,470.5 L507.8,470.2 L508.4,469.9 L509.0,469.6 L509.6,469.3 L510.2,469.0 L510.8,468.8 L511.4,468.5 L512.0,468.3 L512.6,468.0 L513.2,467.8 L513.8,467.6 L514.4,467.3 L515.0,467.1 L515.6,466.9 L516.2,466.7 L516.8,466.5 L517.4,466.4 L518.0,466.2 L518.6,466.0 L519.2,465.9 L519.8,465.7 L520.4,465.6 L521.0,465.5 L521.6,465.3 L522.2,465.2 L522.8,465.1 L523.4,465.1 L524.0,465.0 L524.6,464.9 L525.2,464.8 L525.8,464.8 L526.4,464.7 L527.0,464.7 L527.6,464.7 L528.2,464.7 L528.8,464.7 L529.4,464.7 L530.0,464.7 L530.6,464.7 L531.2,464.7 L531.8,464.8 L532.4,464.8 L533.0,464.9 L533.6,465.0 L534.2,465.0 L534.8,465.1 L535.4,465.2 L536.0,465.3 L536.6,465.4 L537.2,465.5 L537.8,465.6 L538.4,465.8 L539.0,465.9 L539.6,466.1 L540.2,466.2 L540.8,466.4 L541.4,466.5 L542.0,466.7 L542.6,466.9 L543.2,467.0 L543.8,467.2 L544.4,467.4 L545.0,467.6 L545.6,467.8 L546.2,468.0 L546.8,468.2 L547.4,468.5 L548.0,468.7 L548.6,468.9 L549.2,469.1 L549.8,469.4 L550.4,469.6 L551.0,469.8 L551.6,470.1 L552.2,470.3 L552.8,470.6 L553.4,470.8 L554.0,471.1 L554.6,471.3 L555.2,471.6 L555.8,471.8 L556.4,472.1 L557.0,472.3 L557.6,472.6 L558.2,472.9 L558.8,473.1 L559.4,473.4 L560.0,473.6 L560.6,473.9 L561.2,474.1 L561.8,474.4 L562.4,474.6 L563.0,474.9 L563.6,475.1 L564.2,475.4 L564.8,475.6 L565.4,475.9 L566.0,476.1 L566.6,476.3 L567.2,476.6 L567.8,476.8 L568.4,477.0 L569.0,477.2 L569.6,477.4 L570.2,477.7 L570.8,477.9 L571.4,478.1 L572.0,478.3 L572.6,478.5 L573.2,478.6 L573.8,478.8 L574.4,479.0 L575.0,479.2 L575.6,479.3 L576.2,479.5 L576.8,479.6 L577.4,479.8 L578.0,479.9 L578.6,480.0 L579.2,480.2 L579.8,480.3 L580.4,480.4 L581.0,480.5 L581.6,480.6 L582.2,480.7 L582.8,480.7 L583.4,480.8 L584.0,480.9 L584.6,480.9 L585.2,481.0 L585.8,481.0 L586.4,481.0 L587.0,481.1 L587.6,481.1 L588.2,481.1 L588.8,481.1 L589.4,481.2 L590.0,481.2 L590.6,481.2 L591.2,481.2 L591.8,481.2 L592.4,481.2 L593.0,481.2 L593.6,481.2 L594.2,481.2 L594.8,481.2 L595.4,481.2 L596.0,481.2 L596.6,481.2 L597.2,481.2 L597.8,481.2 L598.4,481.2 L599.0,481.2 L599.6,481.2 L600.2,481.2 L600.8,481.2 L601.4,481.2 L602.0,481.2 L602.6,481.2 L603.2,481.2 L603.8,481.2 L604.4,481.2 L605.0,481.2 L605.6,481.2 L606.2,481.1 L606.8,481.1 L607.4,481.1 L608.0,481.1 L608.6,481.1 L609.2,481.0 L609.8,481.0 L610.4,481.0 L611.0,480.9 L611.6,480.9 L612.2,480.9 L612.8,480.8 L613.4,480.8 L614.0,480.7 L614.7,480.6 L615.3,480.6 L615.9,480.5 L616.5,480.5 L617.1,480.4 L617.7,480.3 L618.3,480.2 L618.9,480.2 L619.5,480.1 L620.1,480.0 L620.7,479.9 L621.3,479.8 L621.9,479.7 L622.5,479.7 L623.1,479.6 L623.7,479.5 L624.3,479.4 L624.9,479.3 L625.5,479.2 L626.1,479.1 L626.7,479.0 L627.3,478.9 L627.9,478.8 L628.5,478.7 L629.1,478.6 L629.7,478.6 L630.3,478.5 L630.9,478.4 L631.5,478.3 L632.1,478.2 L632.7,478.1 L633.3,478.0 L633.9,477.9 L634.5,477.9 L635.1,477.8 L635.7,477.7 L636.3,477.6 L636.9,477.6 L637.5,477.5 L638.1,477.4 L638.7,477.4 L639.3,477.3 L639.9,477.2 L640.5,477.2 L641.1,477.1 L641.7,477.1 L642.3,477.0 L642.9,477.0 L643.5,476.9 L644.1,476.9 L644.7,476.8 L645.3,476.8 L645.9,476.8 L646.5,476.7 L647.1,476.7 L647.7,476.7 L648.3,476.7 L648.9,476.6 L649.5,476.6 L650.1,476.6 L650.7,476.6 L651.3,476.6 L651.9,476.6 L652.5,476.6 L653.1,476.6 L653.7,476.6 L654.3,476.6 L654.9,476.6 L655.5,476.6 L656.1,476.6 L656.7,476.7" stroke="#00E0E0" stroke-width="3.0"/>
<path d="M78.2,477.6 L78.8,477.7 L79.4,477.8 L80.0,477.9 L80.6,478.0 L81.2,478.1 L81.8,478.1 L82.4,478.2 L83.0,478.3 L83.6,478.4 L84.2,478.5 L84.8,478.6 L85.4,478.7 L86.0,478.8 L86.6,478.9 L87.2,479.0 L87.8,479.1 L88.4,479.1 L89.0,479.2 L89.6,479.3 L90.2,479.4 L90.8,479.5 L91.4,479.6 L92.0,479.7 L92.6,479.8 L93.2,479.9 L93.8,480.0 L94.4,480.0 L95.0,480.1 L95.6,480.2 L96.2,480.3 L96.8,480.4 L97.4,480.4 L98.0,480.5 L98.6,480.6 L99.2,480.6 L99.8,480.7 L100.4,480.7 L101.0,480.8 L101.6,480.8 L102.2,480.9 L102.8,480.9 L103.4,481.0 L104.0,481.0 L104.6,481.0 L105.2,481.0 L105.8,481.1 L106.4,481.1 L107.0,481.1 L107.6,481.1 L108.2,481.1 L108.8,481.1 L109.4,481.2 L110.0,481.2 L110.6,481.2 L111.2,481.2 L111.8,481.2 L112.4,481.2 L113.0,481.2 L113.6,481.2 L114.2,481.2 L114.8,481.2 L115.4,481.2 L116.0,481.2 L116.6,481.2 L117.2,481.2 L117.8,481.2 L118.4,481.2 L119.0,481.2 L119.6,481.2 L120.2,481.2 L120.8,481.2 L121.4,481.2 L122.0,481.2 L122.6,481.2 L123.2,481.2 L123.8,481.1 L124.4,481.1 L125.0,481.1 L125.6,481.1 L126.2,481.1 L126.8,481.1 L127.4,481.0 L128.0,481.0 L128.6,480.9 L129.2,480.9 L129.8,480.8 L130.4,480.8 L131.0,480.7 L131.6,480.6 L132.2,480.5 L132.8,480.5 L133.4,480.4 L134.0,480.2 L134.6,480.1 L135.2,480.0 L135.8,479.9 L136.4,479.7 L137.0,479.6 L137.6,479.4 L138.2,479.3 L138.8,479.1 L139.4,479.0 L140.0,478.8 L140.6,478.6 L141.2,478.4 L141.8,478.2 L142.4,478.0 L143.0,477.8 L143.6,477.6 L144.2,477.4 L144.8,477.2 L145.4,476.9 L146.0,476.7 L146.6,476.5 L147.2,476.2 L147.8,476.0 L148.4,475.8 L149.0,475.5 L149.6,475.3 L150.2,475.0 L150.8,474.8 L151.4,474.5 L152.0,474.3 L152.6,474.0 L153.2,473.8 L153.8,473.5 L154.4,473.3 L155.0,473.0 L155.6,472.7 L156.2,472.5 L156.8,472.2 L157.4,472.0 L158.0,471.7 L158.6,471.4 L159.2,471.2 L159.8,470.9 L160.4,470.7 L161.0,470.4 L161.6,470.2 L162.2,469.9 L162.8,469.7 L163.4,469.5 L164.0,469.2 L164.6,469.0 L165.2,468.7 L165.8,468.5 L166.4,468.3 L167.0,468.1 L167.6,467.9 L168.2,467.7 L168.8,467.4 L169.4,467.2 L170.0,467.1 L170.6,466.9 L171.2,466.7 L171.8,466.5 L172.4,466.3 L173.0,466.2 L173.6,466.0 L174.2,465.9 L174.8,465.7 L175.4,465.6 L176.0,465.4 L176.6,465.3 L177.2,465.2 L177.8,465.1 L178.4,465.0 L179.0,464.9 L179.6,464.8 L180.2,464.7 L180.8,464.7 L181.4,464.6 L182.0,464.6 L182.6,464.5 L183.2,464.5 L183.8,464.5 L184.4,464.5 L185.0,464.5 L185.7,464.5 L186.3,464.5 L186.9,464.5 L187.5,464.5 L188.1,464.6 L188.7,464.6 L189.3,464.7 L189.9,464.8 L190.5,464.8 L191.1,464.9 L191.7,465.0 L192.3,465.1 L192.9,465.3 L193.5,465.4 L194.1,465.5 L194.7,465.7 L195.3,465.8 L195.9,466.0 L196.5,466.2 L197.1,466.4 L197.7,466.5 L198.3,466.7 L198.9,466.9 L199.5,467.2 L200.1,467.4 L200.7,467.6 L201.3,467.9 L201.9,468.1 L202.5,468.4 L203.1,468.6 L203.7,468.9 L204.3,469.2 L204.9,469.4 L205.5,469.7 L206.1,470.0 L206.7,470.3 L207.3,470.6 L207.9,470.9 L208.5,471.2 L209.1,471.5 L209.7,471.9 L210.3,472.2 L210.9,472.5 L211.5,472.8 L212.1,473.2 L212.7,473.5 L213.3,473.8 L213.9,474.2 L214.5,474.5 L215.1,474.8 L215.7,475.1 L216.3,475.5 L216.9,475.8 L217.5,476.1 L218.1,476.4 L218.7,476.8 L219.3,477.1 L219.9,477.4 L220.5,477.7 L221.1,478.0 L221.7,478.3 L222.3,478.5 L222.9,478.8 L223.5,479.1 L224.1,479.3 L224.7,479.5 L225.3,479.8 L225.9,480.0 L226.5,480.2 L227.1,480.3 L227.7,480.5 L228.3,480.6 L228.9,480.8 L229.5,480.9 L230.1,480.9 L230.7,481.0 L231.3,481.1 L231.9,481.1 L232.5,481.1 L233.1,481.2 L233.7,481.2 L234.3,481.2 L234.9,481.2 L235.5,481.2 L236.1,481.2 L236.7,481.2 L237.2,481.2 L237.8,481.2 L238.3,481.2 L238.8,481.2 L239.4,481.2 L239.9,481.1 L240.5,481.1 L241.0,481.1 L241.6,481.0 L242.1,480.9 L242.6,480.8 L243.2,480.7 L243.7,480.5 L244.3,480.3 L244.8,480.0 L245.4,479.7 L246.0,479.4 L246.5,479.0 L247.1,478.6 L247.6,478.2 L248.2,477.7 L248.8,477.2 L249.3,476.6 L249.9,476.0 L250.5,475.4 L251.1,474.7 L251.6,474.0 L252.2,473.3 L252.8,472.5 L253.4,471.7 L254.0,470.8 L254.6,470.0 L255.2,469.0 L255.7,468.1 L256.3,467.1 L256.9,466.0 L257.5,464.9 L258.1,463.8 L258.7,462.7 L259.4,461.5 L260.0,460.2 L260.6,459.0 L261.2,457.7 L261.8,456.3 L262.4,454.9 L263.0,453.5 L263.6,452.0 L264.3,450.5 L264.9,449.0 L265.5,447.4 L266.1,445.7 L266.8,444.1 L267.4,442.4 L268.0,440.6 L268.6,438.8 L269.3,437.0 L269.8,435.1 L270.4,433.2 L271.0,431.3 L271.6,429.3 L272.2,427.2 L272.8,425.2 L273.4,423.1 L274.0,420.9 L274.6,418.7 L275.1,416.5 L275.7,414.2 L276.3,411.9 L276.9,409.6 L277.5,407.2 L278.1,404.8 L278.7,402.4 L279.3,399.9 L279.9,397.4 L280.5,394.8 L281.1,392.2 L281.6,389.6 L282.2,387.0 L282.8,384.3 L283.4,381.5 L284.0,378.8 L284.6,376.0 L285.2,373.2 L285.8,370.3 L286.4,367.5 L287.0,364.6 L287.6,361.6 L288.2,358.7 L288.8,355.7 L289.4,352.7 L290.0,349.6 L290.6,346.5 L291.2,343.5 L291.8,340.3 L292.4,337.2 L293.0,334.0 L293.6,330.9 L294.2,327.7 L294.8,324.4 L295.4,321.2 L296.0,318.0 L296.6,314.7 L297.2,311.4 L297.8,308.1 L298.4,304.8 L299.0,301.5 L299.6,298.1 L300.2,294.8 L300.8,291.4 L301.4,288.1 L302.0,284.7 L302.6,281.3 L303.2,277.9 L303.8,274.5 L304.4,271.1 L305.0,267.7 L305.6,264.3 L306.2,260.9 L306.8,257.5 L307.4,254.2 L308.0,250.8 L308.7,247.4 L309.3,244.0 L309.9,240.6 L310.5,237.3 L311.1,233.9 L311.7,230.6 L312.3,227.2 L312.9,223.9 L313.5,220.6 L314.1,217.3 L314.7,214.0 L315.4,210.7 L316.0,207.5 L316.6,204.3 L317.2,201.1 L317.8,197.9 L318.4,194.7 L319.0,191.6 L319.6,188.5 L320.2,185.4 L320.9,182.3 L321.5,179.3 L322.1,176.3 L322.7,173.3 L323.3,170.4 L323.9,167.5 L324.5,164.6 L325.2,161.8 L325.8,159.0 L326.4,156.2 L327.0,153.5 L327.6,150.8 L328.3,148.1 L328.9,145.5 L329.5,142.9 L330.1,140.4 L330.8,137.9 L331.4,135.5 L332.0,133.1 L332.7,130.8 L333.3,128.5 L333.9,126.2 L334.6,124.0 L335.2,121.9 L335.8,119.8 L336.5,117.7 L337.1,115.7 L337.7,113.8 L338.4,111.9 L339.0,110.0 L339.6,108.3 L340.2,106.5 L340.8,104.9 L341.5,103.3 L342.1,101.7 L342.6,100.2 L343.2,98.8 L343.8,97.4 L344.4,96.1 L345.0,94.9 L345.5,93.7 L346.1,92.5 L346.7,91.5 L347.2,90.5 L347.8,89.5 L348.3,88.6 L348.9,87.8 L349.5,87.1 L350.0,86.4 L350.6,85.8 L351.2,85.2 L351.8,84.7 L352.4,84.3 L353.0,83.9 L353.6,83.6 L354.2,83.4 L354.8,83.2 L355.4,83.1 L355.9,83.1 L356.6,83.1 L357.3,83.2 L357.9,83.4 L358.5,83.6 L359.2,83.9 L359.9,84.3 L360.5,84.7 L361.2,85.2 L361.9,85.8 L362.5,86.4 L363.2,87.1 L363.9,87.8 L364.6,88.6 L365.3,89.5 L366.0,90.5 L366.7,91.5 L367.4,92.5 L368.1,93.7 L368.7,94.9 L369.4,96.1 L370.1,97.4 L370.8,98.8 L371.4,100.2 L372.1,101.7 L372.7,103.3 L373.3,104.9 L374.0,106.5 L374.6,108.3 L375.2,110.0 L375.8,111.9 L376.4,113.8 L377.0,115.7 L377.6,117.7 L378.2,119.8 L378.7,121.9 L379.3,124.0 L379.9,126.2 L380.5,128.5 L381.1,130.8 L381.7,133.1 L382.3,135.5 L382.9,137.9 L383.5,140.4 L384.1,142.9 L384.7,145.5 L385.3,148.1 L385.9,150.8 L386.5,153.5 L387.1,156.2 L387.7,159.0 L388.3,161.8 L389.0,164.6 L389.6,167.5 L390.2,170.4 L390.8,173.3 L391.4,176.3 L392.0,179.3 L392.6,182.3 L393.2,185.4 L393.9,188.5 L394.5,191.6 L395.1,194.7 L395.7,197.9 L396.3,201.1 L396.9,204.3 L397.5,207.5 L398.1,210.7 L398.8,214.0 L399.4,217.3 L400.0,220.6 L400.6,223.9 L401.2,227.2 L401.8,230.6 L402.4,233.9 L403.0,237.3 L403.6,240.6 L404.2,244.0 L404.8,247.4 L405.5,250.8 L406.1,254.2 L406.7,257.5 L407.3,260.9 L407.9,264.3 L408.5,267.7 L409.1,271.1 L409.7,274.5 L410.3,277.9 L410.9,281.3 L411.5,284.7 L412.1,288.1 L412.7,291.4 L413.3,294.8 L413.9,298.1 L414.5,301.5 L415.1,304.8 L415.7,308.1 L416.3,311.4 L416.9,314.7 L417.5,318.0 L418.1,321.2 L418.7,324.4 L419.3,327.7 L419.9,330.9 L420.5,334.0 L421.1,337.2 L421.7,340.3 L422.3,343.5 L422.9,346.5 L423.5,349.6 L424.1,352.7 L424.7,355.7 L425.3,358.7 L425.9,361.6 L426.5,364.6 L427.1,367.5 L427.7,370.3 L428.3,373.2 L428.9,376.0 L429.5,378.8 L430.1,381.5 L430.7,384.3 L431.3,387.0 L431.9,389.6 L432.4,392.2 L433.0,394.8 L433.6,397.4 L434.2,399.9 L434.8,402.4 L435.4,404.8 L436.0,407.2 L436.6,409.6 L437.2,411.9 L437.8,414.2 L438.4,416.5 L438.9,418.7 L439.5,420.9 L440.1,423.1 L440.7,425.2 L441.3,427.2 L441.9,429.3 L442.5,431.3 L443.1,433.2 L443.7,435.1 L444.2,437.0 L444.9,438.8 L445.5,440.6 L446.1,442.4 L446.7,444.1 L447.4,445.7 L448.0,447.4 L448.6,449.0 L449.2,450.5 L449.9,452.0 L450.5,453.5 L451.1,454.9 L451.7,456.3 L452.3,457.7 L452.9,459.0 L453.5,460.2 L454.1,461.5 L454.8,462.7 L455.4,463.8 L456.0,464.9 L456.6,466.0 L457.2,467.1 L457.8,468.1 L458.3,469.0 L458.9,470.0 L459.5,470.8 L460.1,471.7 L460.7,472.5 L461.3,473.3 L461.9,474.0 L462.4,474.7 L463.0,475.4 L463.6,476.0 L464.2,476.6 L464.7,477.2 L465.3,477.7 L465.9,478.2 L466.4,478.6 L467.0,479.0 L467.5,479.4 L468.1,479.7 L468.7,480.0 L469.2,480.3 L469.8,480.5 L470.3,480.7 L470.9,480.8 L471.4,480.9 L471.9,481.0 L472.5,481.1 L473.0,481.1 L473.6,481.1 L474.1,481.2 L474.7,481.2 L475.2,481.2 L475.7,481.2 L476.3,481.2 L476.8,481.2 L477.4,481.2 L478.0,481.2 L478.6,481.2 L479.2,481.2 L479.8,481.2 L480.4,481.2 L481.0,481.1 L481.6,481.1 L482.2,481.1 L482.8,481.0 L483.4,480.9 L484.0,480.9 L484.6,480.8 L485.2,480.6 L485.8,480.5 L486.4,480.3 L487.0,480.2 L487.6,480.0 L488.2,479.8 L488.8,479.5 L489.4,479.3 L490.0,479.1 L490.6,478.8 L491.2,478.5 L491.8,478.3 L492.4,478.0 L493.0,477.7 L493.6,477.4 L494.2,477.1 L494.8,476.8 L495.4,476.4 L496.0,476.1 L496.6,475.8 L497.2,475.5 L497.8,475.1 L498.4,474.8 L499.0,474.5 L499.6,474.2 L500.2,473.8 L500.8,473.5 L501.4,473.2 L502.0,472.8 L502.6,472.5 L503.2,472.2 L503.8,471.9 L504.4,471.5 L505.0,471.2 L505.6,470.9 L506.2,470.6 L506.8,470.3 L507.4,470.0 L508.0,469.7 L508.6,469.4 L509.2,469.2 L509.8,468.9 L510.4,468.6 L511.0,468.4 L511.6,468.1 L512.2,467.9 L512.8,467.6 L513.4,467.4 L514.0,467.2 L514.6,466.9 L515.2,466.7 L515.8,466.5 L516.4,466.4 L517.0,466.2 L517.6,466.0 L518.2,465.8 L518.8,465.7 L519.4,465.5 L520.0,465.4 L520.6,465.3 L521.2,465.1 L521.8,465.0 L522.4,464.9 L523.0,464.8 L523.6,464.8 L524.2,464.7 L524.8,464.6 L525.4,464.6 L526.0,464.5 L526.6,464.5 L527.2,464.5 L527.8,464.5 L528.5,464.5 L529.1,464.5 L529.7,464.5 L530.3,464.5 L530.9,464.5 L531.5,464.6 L532.1,464.6 L532.7,464.7 L533.3,464.7 L533.9,464.8 L534.5,464.9 L535.1,465.0 L535.7,465.1 L536.3,465.2 L536.9,465.3 L537.5,465.4 L538.1,465.6 L538.7,465.7 L539.3,465.9 L539.9,466.0 L540.5,466.2 L541.1,466.3 L541.7,466.5 L542.3,466.7 L542.9,466.9 L543.5,467.1 L544.1,467.2 L544.7,467.4 L545.3,467.7 L545.9,467.9 L546.5,468.1 L547.1,468.3 L547.7,468.5 L548.3,468.7 L548.9,469.0 L549.5,469.2 L550.1,469.5 L550.7,469.7 L551.3,469.9 L551.9,470.2 L552.5,470.4 L553.1,470.7 L553.7,470.9 L554.3,471.2 L554.9,471.4 L555.5,471.7 L556.1,472.0 L556.7,472.2 L557.3,472.5 L557.9,472.7 L558.5,473.0 L559.1,473.3 L559.7,473.5 L560.3,473.8 L560.9,474.0 L561.5,474.3 L562.1,474.5 L562.7,474.8 L563.3,475.0 L563.9,475.3 L564.5,475.5 L565.1,475.8 L565.7,476.0 L566.3,476.2 L566.9,476.5 L567.5,476.7 L568.1,476.9 L568.7,477.2 L569.3,477.4 L569.9,477.6 L570.5,477.8 L571.1,478.0 L571.7,478.2 L572.3,478.4 L572.9,478.6 L573.5,478.8 L574.1,479.0 L574.7,479.1 L575.3,479.3 L575.9,479.4 L576.5,479.6 L577.1,479.7 L577.7,479.9 L578.3,480.0 L578.9,480.1 L579.5,480.2 L580.1,480.4 L580.7,480.5 L581.3,480.5 L581.9,480.6 L582.5,480.7 L583.1,480.8 L583.7,480.8 L584.3,480.9 L584.9,480.9 L585.5,481.0 L586.1,481.0 L586.7,481.1 L587.3,481.1 L587.9,481.1 L588.5,481.1 L589.1,481.1 L589.7,481.1 L590.3,481.2 L590.9,481.2 L591.5,481.2 L592.1,481.2 L592.7,481.2 L593.3,481.2 L593.9,481.2 L594.5,481.2 L595.1,481.2 L595.7,481.2 L596.3,481.2 L596.9,481.2 L597.5,481.2 L598.1,481.2 L598.7,481.2 L599.3,481.2 L599.9,481.2 L600.5,481.2 L601.1,481.2 L601.7,481.2 L602.3,481.2 L602.9,481.2 L603.5,481.2 L604.1,481.2 L604.7,481.1 L605.3,481.1 L605.9,481.1 L606.5,481.1 L607.1,481.1 L607.7,481.1 L608.3,481.0 L608.9,481.0 L609.5,481.0 L610.1,481.0 L610.7,480.9 L611.3,480.9 L611.9,480.8 L612.5,480.8 L613.1,480.7 L613.7,480.7 L614.3,480.6 L614.9,480.6 L615.5,480.5 L616.1,480.4 L616.7,480.4 L617.3,480.3 L617.9,480.2 L618.5,480.1 L619.1,480.0 L619.7,480.0 L620.3,479.9 L620.9,479.8 L621.5,479.7 L622.1,479.6 L622.7,479.5 L623.3,479.4 L623.9,479.3 L624.5,479.2 L625.1,479.1 L625.7,479.1 L626.3,479.0 L626.9,478.9 L627.5,478.8 L628.1,478.7 L628.7,478.6 L629.3,478.5 L629.9,478.4 L630.5,478.3 L631.1,478.2 L631.7,478.1 L632.3,478.1 L632.9,478.0 L633.5,477.9 L634.1,477.8 L634.7,477.7 L635.3,477.6 L635.9,477.6 L636.5,477.5 L637.1,477.4 L637.7,477.4 L638.3,477.3 L638.9,477.2 L639.5,477.2 L640.1,477.1 L640.7,477.0 L641.3,477.0 L641.9,476.9 L642.5,476.9 L643.1,476.8 L643.7,476.8 L644.3,476.8 L644.9,476.7 L645.5,476.7 L646.1,476.7 L646.7,476.6 L647.3,476.6 L647.9,476.6 L648.5,476.6 L649.1,476.5 L649.7,476.5 L650.3,476.5 L650.9,476.5 L651.5,476.5 L652.1,476.5 L652.7,476.5 L653.3,476.5 L653.9,476.5 L654.5,476.5 L655.1,476.5 L655.7,476.6 L656.3,476.6 L656.9,476.6" stroke="#FA0505" stroke-width="3.0"/>
</g>
<path d="M80.65,20.50 V484.00" stroke="#303030" stroke-width="1" fill="none"/>
<path d="M654.00,20.50 V484.00" stroke="#303030" stroke-width="1" fill="none"/>
<path d="M80.15,20.90 H654.50" stroke="#303030" stroke-width="1" fill="none"/>
<path d="M80.15,483.55 H654.50" stroke="#8c8c8c" stroke-width="1.5" fill="none"/>
<path d="M224.45,483.5 v-6.2 M224.45,21.0 v6.2" stroke="#262626" stroke-width="1" fill="none"/>
<path d="M367.50,483.5 v-6.2 M367.50,21.0 v6.2" stroke="#262626" stroke-width="1" fill="none"/>
<path d="M510.95,483.5 v-6.2 M510.95,21.0 v6.2" stroke="#262626" stroke-width="1" fill="none"/>
<path d="M80.7,391.0 h6.2 M654.0,391.0 h-6.2" stroke="#262626" stroke-width="1" fill="none"/>
<path d="M80.7,298.5 h6.2 M654.0,298.5 h-6.2" stroke="#262626" stroke-width="1" fill="none"/>
<path d="M80.7,206.0 h6.2 M654.0,206.0 h-6.2" stroke="#262626" stroke-width="1" fill="none"/>
<path d="M80.7,113.5 h6.2 M654.0,113.5 h-6.2" stroke="#262626" stroke-width="1" fill="none"/>
<g>
<path class="g1" d="M64.00,508.60 L64.00,497.73 L61.21,499.72 L61.21,498.23 L64.14,496.22 L65.60,496.22 L65.60,508.60Z"/><text x="70.69" y="508.60" font-size="18.00">5</text><text x="81.90" y="508.60" font-size="18.00">4</text><text x="93.11" y="508.60" font-size="18.00">8</text>
<path class="g1" d="M207.75,508.60 L207.75,497.73 L204.96,499.72 L204.96,498.23 L207.89,496.22 L209.35,496.22 L209.35,508.60Z"/><text x="214.44" y="508.60" font-size="18.00">5</text><text x="225.65" y="508.60" font-size="18.00">4</text><text x="236.86" y="508.60" font-size="18.00">9</text>
<path class="g1" d="M350.80,508.60 L350.80,497.73 L348.01,499.72 L348.01,498.23 L350.94,496.22 L352.40,496.22 L352.40,508.60Z"/><text x="357.49" y="508.60" font-size="18.00">5</text><text x="368.70" y="508.60" font-size="18.00">5</text><text x="379.91" y="508.60" font-size="18.00">0</text>
<path class="g1" d="M494.25,508.60 L494.25,497.73 L491.46,499.72 L491.46,498.23 L494.39,496.22 L495.85,496.22 L495.85,508.60Z"/><text x="500.94" y="508.60" font-size="18.00">5</text><text x="512.15" y="508.60" font-size="18.00">5</text><path class="g1" d="M527.89,508.60 L527.89,497.73 L525.09,499.72 L525.09,498.23 L528.02,496.22 L529.48,496.22 L529.48,508.60Z"/>
<path class="g1" d="M637.30,508.60 L637.30,497.73 L634.51,499.72 L634.51,498.23 L637.44,496.22 L638.90,496.22 L638.90,508.60Z"/><text x="643.99" y="508.60" font-size="18.00">5</text><text x="655.20" y="508.60" font-size="18.00">5</text><text x="666.41" y="508.60" font-size="18.00">2</text>
<text x="63.59" y="490.10" font-size="18.00">0</text>
<text x="46.38" y="397.60" font-size="18.00">0</text><text x="57.49" y="397.60" font-size="18.00">.</text><text x="63.59" y="397.60" font-size="18.00">2</text>
<text x="46.38" y="305.10" font-size="18.00">0</text><text x="57.49" y="305.10" font-size="18.00">.</text><text x="63.59" y="305.10" font-size="18.00">4</text>
<text x="46.38" y="212.60" font-size="18.00">0</text><text x="57.49" y="212.60" font-size="18.00">.</text><text x="63.59" y="212.60" font-size="18.00">6</text>
<text x="46.38" y="120.10" font-size="18.00">0</text><text x="57.49" y="120.10" font-size="18.00">.</text><text x="63.59" y="120.10" font-size="18.00">8</text>
<path class="g1" d="M68.12,27.60 L68.12,16.73 L65.32,18.72 L65.32,17.23 L68.25,15.22 L69.71,15.22 L69.71,27.60Z"/>
</g>
<g><text x="286.76" y="534.20" font-size="20.20">W</text><text x="306.35" y="534.20" font-size="20.20">a</text><text x="318.10" y="534.20" font-size="20.20">v</text><text x="328.72" y="534.20" font-size="20.20">e</text><text x="340.48" y="534.20" font-size="20.20">l</text><text x="345.48" y="534.20" font-size="20.20">e</text><text x="357.24" y="534.20" font-size="20.20">n</text><text x="368.99" y="534.20" font-size="20.20">g</text><text x="380.75" y="534.20" font-size="20.20">t</text><text x="386.88" y="534.20" font-size="20.20">h</text><text x="404.76" y="534.20" font-size="20.20">(</text><text x="412.01" y="534.20" font-size="20.20">n</text><text x="423.77" y="534.20" font-size="20.20">m</text><text x="441.11" y="534.20" font-size="20.20">)</text></g>
<g transform="translate(38.1,251.3) rotate(-90)"><text x="-96.57" y="0.00" font-size="20.20">R</text><text x="-81.56" y="0.00" font-size="20.20">e</text><text x="-69.89" y="0.00" font-size="20.20">f</text><text x="-63.85" y="0.00" font-size="20.20">l</text><text x="-58.93" y="0.00" font-size="20.20">e</text><text x="-47.27" y="0.00" font-size="20.20">c</text><text x="-36.74" y="0.00" font-size="20.20">t</text><text x="-30.70" y="0.00" font-size="20.20">i</text><text x="-25.78" y="0.00" font-size="20.20">o</text><text x="-14.11" y="0.00" font-size="20.20">n</text><text x="3.59" y="0.00" font-size="20.20">(</text><text x="10.75" y="0.00" font-size="20.20">A</text><text x="24.65" y="0.00" font-size="20.20">r</text><text x="31.81" y="0.00" font-size="20.20">b</text><text x="43.47" y="0.00" font-size="20.20">.</text><text x="55.56" y="0.00" font-size="20.20">u</text><text x="67.22" y="0.00" font-size="20.20">n</text><text x="78.89" y="0.00" font-size="20.20">i</text><text x="83.81" y="0.00" font-size="20.20">t</text><text x="89.85" y="0.00" font-size="20.20">)</text></g>
<g class="lg">
<path d="M443.8,100.45 H492.4" stroke="#0000B4" stroke-width="3.4" fill="none"/>
<text x="495.70" y="92.95" font-size="15.00">N</text><text x="507.13" y="92.95" font-size="15.00">o</text><text x="520.84" y="92.95" font-size="15.00">d</text><text x="529.78" y="92.95" font-size="15.00">o</text><text x="538.73" y="92.95" font-size="15.00">s</text><text x="546.83" y="92.95" font-size="15.00">e</text>
<path class="g1" fill-rule="evenodd" d="M496.90,111.25 L507.80,111.25 L502.35,100.75 Z M498.85,110.00 L505.00,110.00 L501.60,103.45 Z"/>
<text transform="translate(511.0,111.25) scale(1.1,1)" font-size="13.80">λ</text>
<text x="518.6" y="118.85" font-size="12.2">B</text>
<text x="527.60" y="111.25" font-size="15.00">=</text><text x="536.96" y="111.25" font-size="15.00">0</text><text x="550.67" y="111.25" font-size="15.00">n</text><text x="559.61" y="111.25" font-size="15.00">m</text>
<path d="M443.8,144.65 H492.4" stroke="#000000" stroke-width="3.4" fill="none"/>
<path class="g1" d="M499.47,137.15 L499.47,128.09 L497.14,129.75 L497.14,128.51 L499.58,126.83 L500.80,126.83 L500.80,137.15Z"/><text x="504.64" y="137.15" font-size="15.00">.</text><text x="509.41" y="137.15" font-size="15.00">6</text><text x="523.12" y="137.15" font-size="15.00">M</text><text x="536.21" y="137.15" font-size="15.00">G</text><text x="548.48" y="137.15" font-size="15.00">y</text>
<path class="g1" fill-rule="evenodd" d="M496.90,155.45 L507.80,155.45 L502.35,144.95 Z M498.85,154.20 L505.00,154.20 L501.60,147.65 Z"/>
<text transform="translate(511.0,155.45) scale(1.1,1)" font-size="13.80">λ</text>
<text x="518.6" y="163.05" font-size="12.2">B</text>
<text x="527.60" y="155.45" font-size="15.00">=</text><text x="541.73" y="155.45" font-size="15.00">-</text><text x="552.09" y="155.45" font-size="15.00">0</text><text x="561.03" y="155.45" font-size="15.00">.</text><text x="565.80" y="155.45" font-size="15.00">0</text><text x="574.74" y="155.45" font-size="15.00">2</text><text x="588.45" y="155.45" font-size="15.00">n</text><text x="597.39" y="155.45" font-size="15.00">m</text>
<path d="M443.8,188.85 H492.4" stroke="#00E0E0" stroke-width="4.4" fill="none"/>
<text x="495.70" y="181.35" font-size="15.00">5</text><text x="509.41" y="181.35" font-size="15.00">M</text><text x="522.50" y="181.35" font-size="15.00">G</text><text x="534.77" y="181.35" font-size="15.00">y</text>
<path class="g1" fill-rule="evenodd" d="M496.90,199.65 L507.80,199.65 L502.35,189.15 Z M498.85,198.40 L505.00,198.40 L501.60,191.85 Z"/>
<text transform="translate(511.0,199.65) scale(1.1,1)" font-size="13.80">λ</text>
<text x="518.6" y="207.25" font-size="12.2">B</text>
<text x="527.60" y="199.65" font-size="15.00">=</text><text x="541.73" y="199.65" font-size="15.00">-</text><text x="552.09" y="199.65" font-size="15.00">0</text><text x="561.03" y="199.65" font-size="15.00">.</text><text x="565.80" y="199.65" font-size="15.00">0</text><text x="574.74" y="199.65" font-size="15.00">3</text><text x="583.68" y="199.65" font-size="15.00">7</text><text x="597.39" y="199.65" font-size="15.00">n</text><text x="606.34" y="199.65" font-size="15.00">m</text>
<path d="M443.8,233.05 H492.4" stroke="#FA0505" stroke-width="3.2" fill="none"/>
<text x="495.70" y="225.55" font-size="15.00">7</text><text x="509.41" y="225.55" font-size="15.00">M</text><text x="522.50" y="225.55" font-size="15.00">G</text><text x="534.77" y="225.55" font-size="15.00">y</text>
<path class="g1" fill-rule="evenodd" d="M496.90,243.85 L507.80,243.85 L502.35,233.35 Z M498.85,242.60 L505.00,242.60 L501.60,236.05 Z"/>
<text transform="translate(511.0,243.85) scale(1.1,1)" font-size="13.80">λ</text>
<text x="518.6" y="251.45" font-size="12.2">B</text>
<text x="527.60" y="243.85" font-size="15.00">=</text><text x="541.73" y="243.85" font-size="15.00">-</text><text x="552.09" y="243.85" font-size="15.00">0</text><text x="561.03" y="243.85" font-size="15.00">.</text><text x="565.80" y="243.85" font-size="15.00">0</text><text x="574.74" y="243.85" font-size="15.00">3</text><text x="583.68" y="243.85" font-size="15.00">9</text><text x="597.39" y="243.85" font-size="15.00">n</text><text x="606.34" y="243.85" font-size="15.00">m</text>
</g>
</g>
</svg></body></html>
